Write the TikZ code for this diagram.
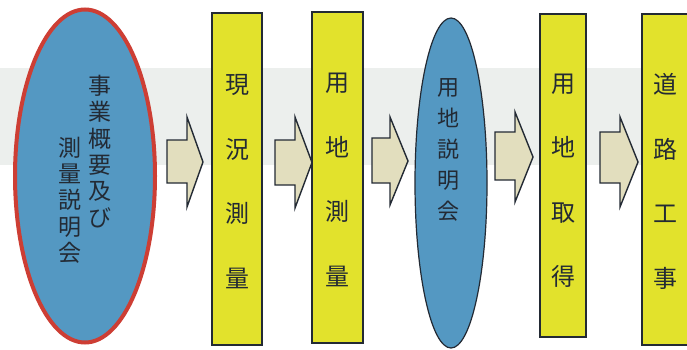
\documentclass[tikz,border=0pt]{standalone}
\usepackage{fontspec}
\newfontfamily\cjk{Noto Sans CJK JP}
\usetikzlibrary{shapes.geometric}
\definecolor{eblue}{RGB}{84,152,194}
\definecolor{ered}{RGB}{205,62,52}
\definecolor{byel}{RGB}{226,226,44}
\definecolor{abeige}{RGB}{226,222,190}
\definecolor{tdark}{RGB}{35,42,52}
\definecolor{bandg}{RGB}{236,239,237}
\tikzset{
  ellred/.style={ellipse, draw=ered, line width=4pt, fill=eblue, inner sep=0pt, outer sep=0pt},
  ellthin/.style={ellipse, draw=tdark, line width=1.2pt, fill=eblue, inner sep=0pt, outer sep=0pt},
  ybox/.style={rectangle, draw=tdark, line width=1.3pt, fill=byel, inner sep=0pt, outer sep=0pt},
  blockarrow/.style={draw=tdark, line width=1.4pt, fill=abeige, line join=miter},
  coltext/.style={text=tdark, align=center, inner sep=0pt},
  tsmall/.style={coltext, font=\cjk\fontsize{23}{26.3}\selectfont},
  tmid/.style={coltext, font=\cjk\fontsize{22}{31}\selectfont},
  tbig/.style={coltext, font=\cjk\fontsize{24}{64.5}\selectfont},
}
\begin{document}
\begin{tikzpicture}[x=1pt,y=-1pt]
\useasboundingbox (0,0) rectangle (687,350);
\clip (0,0) rectangle (687,350);
\fill[white] (0,0) rectangle (687,350);
\fill[bandg] (0,68) rectangle (687,165);

% ellipse 1
\node[ellred, minimum width=140, minimum height=333] (e1) at (85,176) {};
\node[tsmall] (e1r) at (100,151.5) {事\\業\\概\\要\\及\\び};
\node[tsmall] (e1l) at (70,200) {測\\量\\説\\明\\会};

% arrow 1
\draw[blockarrow] (167,140) -- (187,140) -- (187,117) -- (203,162) -- (187,207) -- (187,183) -- (167,183) -- cycle;

% box 1
\node[ybox, minimum width=50, minimum height=332] (r1) at (237,179) {};
\node[tbig] (t1) at (237,181.5) {現\\況\\測\\量};

% arrow 2
\draw[blockarrow] (275,140) -- (295,140) -- (295,117) -- (312,162.5) -- (295,208) -- (295,185) -- (275,185) -- cycle;

% box 2
\node[ybox, minimum width=51, minimum height=331] (r2) at (337.5,177.5) {};
\node[tbig] (t2) at (337.5,180) {用\\地\\測\\量};

% arrow 3
\draw[blockarrow] (372,138) -- (390,138) -- (390,117) -- (408,161) -- (390,205) -- (390,183) -- (372,183) -- cycle;

% ellipse 2
\node[ellthin, minimum width=72, minimum height=330] (e2) at (451,183) {};
\node[tmid] (e2t) at (448,149.5) {用\\地\\説\\明\\会};

% arrow 4
\draw[blockarrow] (495,132) -- (515,132) -- (515,112) -- (533,157) -- (515,202) -- (515,180) -- (495,180) -- cycle;

% box 3
\node[ybox, minimum width=46, minimum height=323] (r3) at (563,175.5) {};
\node[tbig] (t3) at (563,180.5) {用\\地\\取\\得};

% arrow 5
\draw[blockarrow] (600,132) -- (620,132) -- (620,117) -- (638,162) -- (620,207) -- (620,183) -- (600,183) -- cycle;

% box 4
\node[ybox, minimum width=52, minimum height=331] (r4) at (668,179.5) {};
\node[tbig] (t4) at (665,181.5) {道\\路\\工\\事};
\end{tikzpicture}
\end{document}
